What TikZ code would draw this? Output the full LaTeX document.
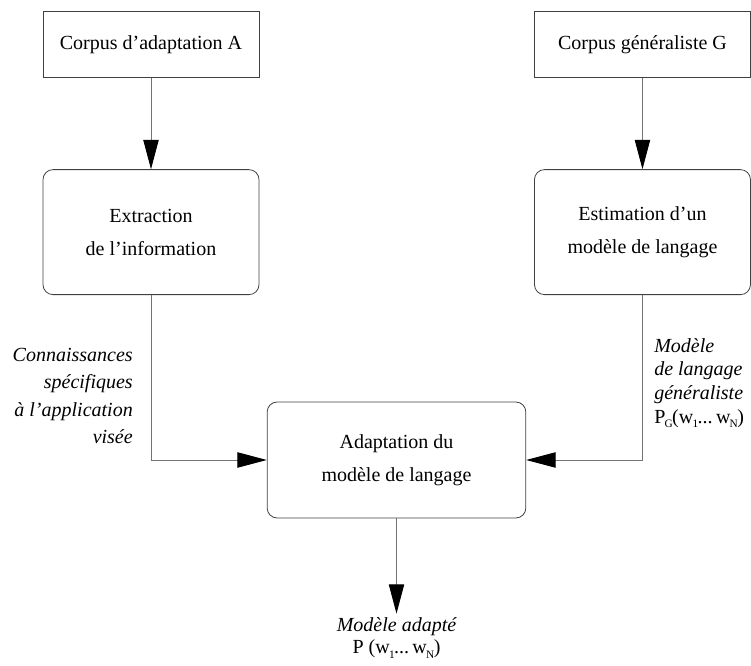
\documentclass[tikz,border=0pt]{standalone}
\usepackage{fontspec}
\setmainfont{Liberation Serif}
\usepackage{tikz}
\usetikzlibrary{arrows.meta,positioning}
\newcommand{\indice}[1]{\kern-0.6pt\raisebox{-3.2pt}{\fontsize{8.5}{8.5}\selectfont #1}\kern-0.4pt}
\tikzset{
    %Define standard arrow tip
    >={Triangle[length=22pt,width=11.5pt,color=black]},
    %Define style for boxes
    corpus/.style={
           rectangle,
           draw=black!75, line width=0.6pt,
           minimum width=162pt,
           minimum height=50pt,
           font=\fontsize{15}{18}\selectfont,
           text centered},
    traitement/.style={
           rectangle,
           rounded corners=7.5pt,
           draw=black!75, line width=0.6pt,
           minimum width=162pt,
           minimum height=93.75pt,
           font=\fontsize{15}{24.75}\selectfont,
           align=center},
    legende/.style={
           font=\fontsize{15}{20.6}\selectfont\itshape,
           inner sep=0pt},
    % Define arrow style
    fleche/.style={
           ->,
           draw=black!55,
           line width=0.7pt}
}
\begin{document}
\begin{tikzpicture}[x=0.75pt,y=-0.75pt]
\useasboundingbox (0,0) rectangle (751,666);
\node[corpus] (A) at (151,44.5) {Corpus d'adaptation A};
\node[corpus, right=206pt of A] (G) {Corpus généraliste G};
\node[traitement, below=68.25pt of A] (extraction) {Extraction\\de l'information};
\node[traitement, below=68.25pt of G] (estimation) {Estimation d'un\\modèle de langage};
\node[traitement, minimum width=194pt, minimum height=87pt] (adaptation) at (396.5,460)
    {Adaptation du\\modèle de langage};
\node[legende, align=right, anchor=east] (connaissances) at (133,396)
    {Connaissances\\spécifiques\\à l'application\\visée};
\node[legende, align=left, anchor=west, font=\fontsize{15}{17.8}\selectfont\itshape] (general) at (654,383)
    {Modèle\\de langage\\généraliste\\\upshape P\indice{G}(w\indice{1}...\,w\indice{N})};
\node[legende, align=center, inner sep=3pt, font=\fontsize{15}{16.5}\selectfont\itshape] (sortie) at (396.5,638)
    {Modèle adapté\\\upshape P (w\indice{1}...\,w\indice{N})};
 \path[fleche]
    (A) edge (extraction)
    (G) edge (estimation)
    (adaptation) edge (sortie);
\draw[fleche] (extraction) |- (adaptation);
\draw[fleche] (estimation) |- (adaptation);
\end{tikzpicture}
\end{document}
